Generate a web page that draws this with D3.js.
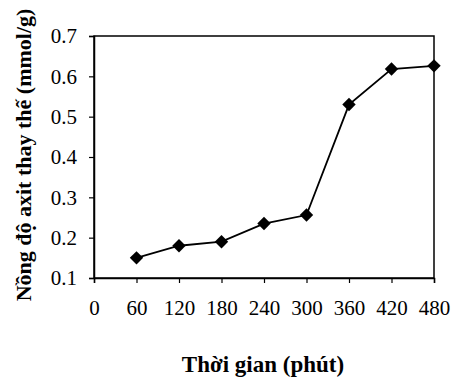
<!DOCTYPE html>
<html><head><meta charset="utf-8">
<script src="https://cdn.jsdelivr.net/npm/d3@7"></script>
<style>body{margin:0;background:#fff}svg{display:block}</style>
</head><body>
<script>
const times = [60,120,180,240,300,360,420,480];
const values = [0.15,0.18,0.19,0.235,0.256,0.53,0.618,0.626];
const xTicks = [0,60,120,180,240,300,360,420,480];
const yTicks = [0.1,0.2,0.3,0.4,0.5,0.6,0.7];
const xTitle = "Thời gian (phút)";
const yTitle = "Nồng độ axit thay thế (mmol/g)";

const W=451,H=381;
const m={l:94,r:17,t:36,b:103};
const svg=d3.select("body").append("svg").attr("width",W).attr("height",H);
const x=d3.scaleLinear().domain([0,480]).range([m.l,W-m.r]);
const y=d3.scaleLinear().domain([0.1,0.7]).range([H-m.b,m.t]);
const font="'Liberation Serif','Times New Roman',serif";

svg.append("rect").attr("x",x(0)).attr("y",y(0.7)).attr("width",x(480)-x(0)).attr("height",y(0.1)-y(0.7))
  .attr("fill","none").attr("stroke","#000").attr("stroke-width",1.5);

const xa=svg.append("g").attr("transform",`translate(0,${y(0.1)})`)
  .call(d3.axisBottom(x).tickValues(xTicks).tickSize(5).tickPadding(17).tickFormat(d3.format("d")));
const ya=svg.append("g").attr("transform",`translate(${x(0)},0)`)
  .call(d3.axisLeft(y).tickValues(yTicks).tickSize(5).tickPadding(12).tickFormat(d3.format(".1f")));
[xa,ya].forEach(g=>{
  g.attr("font-family",font).attr("font-size",21);
  g.selectAll("path").attr("stroke","#000").attr("stroke-width",1.5);
  g.selectAll("line").attr("stroke","#000").attr("stroke-width",1.2);
  g.selectAll("text").attr("font-family",font).attr("font-size",21).attr("fill","#000");
});

const line=d3.line().x((d,i)=>x(times[i])).y(d=>y(d));
svg.append("path").datum(values).attr("d",line).attr("fill","none").attr("stroke","#000").attr("stroke-width",1.8);

svg.selectAll(".pt").data(values).join("path").attr("class","pt")
  .attr("d",d3.symbol(d3.symbolSquare,90)())
  .attr("transform",(d,i)=>`translate(${x(times[i])},${y(d)}) rotate(45)`)
  .attr("fill","#000");

svg.append("text").attr("x",263).attr("y",372).attr("text-anchor","middle")
  .attr("font-family",font).attr("font-weight","bold").attr("font-size",23).text(xTitle);
svg.append("text").attr("transform","translate(31,155) rotate(-90)").attr("text-anchor","middle")
  .attr("font-family",font).attr("font-weight","bold").attr("font-size",22).text(yTitle);
</script>
</body></html>
